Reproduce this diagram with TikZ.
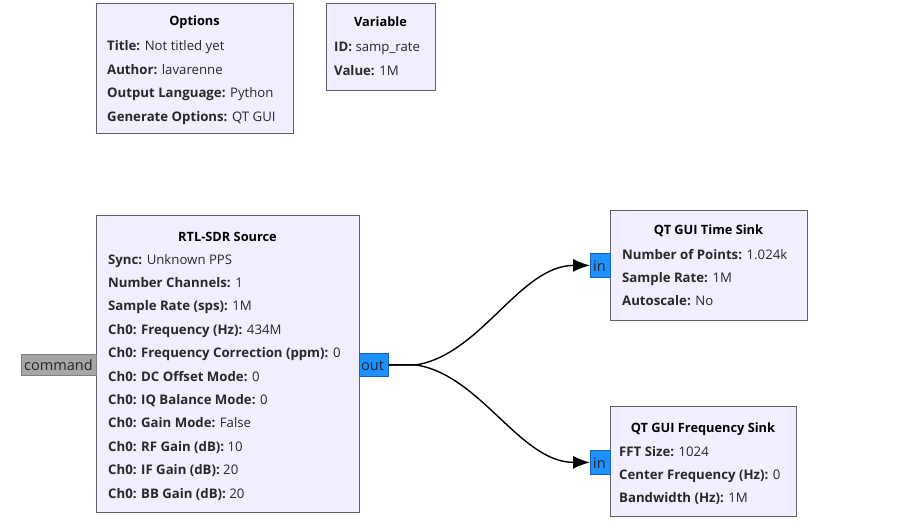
\documentclass[tikz,border=0pt]{standalone}
\usepackage{fontspec}
\setmainfont{Open Sans}[BoldFont={Open Sans Bold}]
\usetikzlibrary{arrows.meta,positioning}
\definecolor{blockFill}{RGB}{241,238,255}
\definecolor{blockLine}{RGB}{97,97,97}
\definecolor{portBlue}{RGB}{30,144,255}
\definecolor{portBlueLine}{RGB}{20,100,190}
\definecolor{portGray}{RGB}{166,166,166}
\definecolor{portGrayLine}{RGB}{128,128,128}
\definecolor{paramInk}{RGB}{40,40,40}
\newcommand\paramfont{\fontsize{13.2}{15}\selectfont}
\newcommand\titlefont{\fontsize{12.8}{15}\selectfont\bfseries}
\tikzset{
  block/.style={draw=blockLine, line width=1.4pt, fill=blockFill, anchor=north west, inner sep=0pt},
  blocktitle/.style={font=\titlefont, anchor=base, inner sep=0pt},
  param/.style={font=\paramfont, text=paramInk, anchor=base west, inner sep=0pt},
  portbox/.style={line width=0.8pt, anchor=north west, inner sep=0pt},
  streamport/.style={portbox, fill=portBlue, draw=portBlueLine},
  msgport/.style={portbox, fill=portGray, draw=portGrayLine},
  portlabel/.style={font=\fontsize{14.5}{16}\selectfont, text=black!85, anchor=base west, inner sep=0pt},
  flow/.style={-{Latex[length=17pt,width=13pt]}, line width=1.4pt, draw=black}
}

\begin{document}
\begin{tikzpicture}[x=1pt, y=-1pt]
  \useasboundingbox (0,0) rectangle (903,532);
  % variables
  \node[block, minimum width=197pt, minimum height=130pt] (opts) at (96,3) {};
  \node[blocktitle] (opts-t) at (194.5,26) {Options};
  \foreach \txt [count=\i] in {{\textbf{Title:} Not titled yet}, {\textbf{Author:} lavarenne},
      {\textbf{Output Language:} Python}, {\textbf{Generate Options:} QT GUI}}
    \node[param] (opts-p\i) at (107,27+23.6*\i) {\txt};

  \node[block, minimum width=109pt, minimum height=87pt] (var) at (326,3) {};
  \node[blocktitle] (var-t) at (380.5,27) {Variable};
  \foreach \txt [count=\i] in {{\textbf{ID:} samp\_rate}, {\textbf{Value:} 1M}}
    \node[param] (var-p\i) at (334,27+24.5*\i) {\txt};

  % source block
  \node[block, minimum width=263pt, minimum height=297pt] (rtl) at (96,215) {};
  \node[blocktitle] (rtl-t) at (227.5,241) {RTL-SDR Source};
  \foreach \txt [count=\i] in {{\textbf{Sync:} Unknown PPS}, {\textbf{Number Channels:} 1},
      {\textbf{Sample Rate (sps):} 1M}, {\textbf{Ch0: Frequency (Hz):} 434M},
      {\textbf{Ch0: Frequency Correction (ppm):} 0}, {\textbf{Ch0: DC Offset Mode:} 0},
      {\textbf{Ch0: IQ Balance Mode:} 0}, {\textbf{Ch0: Gain Mode:} False},
      {\textbf{Ch0: RF Gain (dB):} 10}, {\textbf{Ch0: IF Gain (dB):} 20},
      {\textbf{Ch0: BB Gain (dB):} 20}}
    \node[param] (rtl-p\i) at (108,240.6+23.4*\i) {\txt};
  \node[msgport, minimum width=75pt, minimum height=21pt] (cmd) at (21,354) {};
  \node[portlabel] (cmd-l) at (24,370) {command};
  \node[streamport, minimum width=29pt, minimum height=23pt] (out) at (359,353) {};
  \node[portlabel] (out-l) at (361,370) {out};

  % sinks
  \node[block, minimum width=197pt, minimum height=110pt] (tsink) at (610,210) {};
  \node[blocktitle] (tsink-t) at (708.5,234) {QT GUI Time Sink};
  \foreach \txt [count=\i] in {{\textbf{Number of Points:} 1.024k}, {\textbf{Sample Rate:} 1M},
      {\textbf{Autoscale:} No}}
    \node[param] (tsink-p\i) at (622,235.6+23.4*\i) {\txt};
  \node[streamport, minimum width=20pt, minimum height=24pt] (tin) at (590,253) {};
  \node[portlabel] (tin-l) at (593,271) {in};

  \node[block, minimum width=186pt, minimum height=110pt] (fsink) at (610,406) {};
  \node[blocktitle] (fsink-t) at (703,432) {QT GUI Frequency Sink};
  \foreach \txt [count=\i] in {{\textbf{FFT Size:} 1024}, {\textbf{Center Frequency (Hz):} 0},
      {\textbf{Bandwidth (Hz):} 1M}}
    \node[param] (fsink-p\i) at (619,432.6+23.4*\i) {\txt};
  \node[streamport, minimum width=20pt, minimum height=24pt] (fin) at (590,450) {};
  \node[portlabel] (fin-l) at (593,468) {in};

  % connections
  \draw[flow] (out.east) -- ++(27,0) .. controls +(65,-10) and +(-70,0) .. (tin.west);
  \draw[flow] (out.east) -- ++(27,0) .. controls +(65,10) and +(-70,0) .. (fin.west);
\end{tikzpicture}
\end{document}
